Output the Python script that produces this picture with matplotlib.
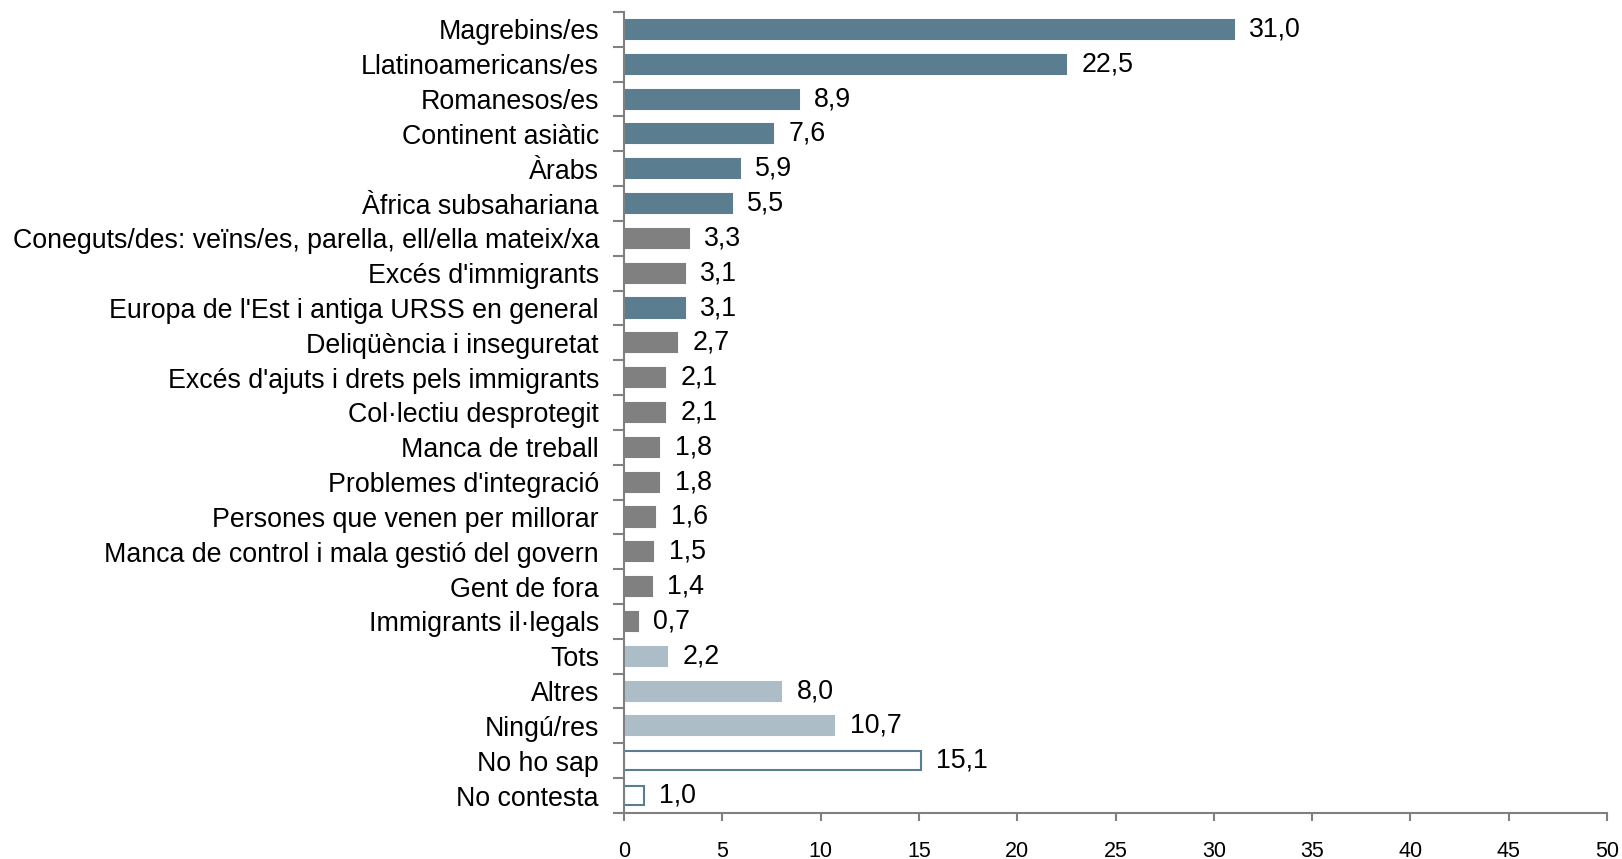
import numpy as np
import matplotlib.pyplot as plt
from matplotlib.ticker import FixedLocator, NullFormatter

plt.rcParams['font.family'] = ['Liberation Sans', 'DejaVu Sans']

# Data (top to bottom as in the chart)
categories = [
    'Magrebins/es', 'Llatinoamericans/es', 'Romanesos/es', 'Continent asiàtic',
    'Àrabs', 'Àfrica subsahariana',
    'Coneguts/des: veïns/es, parella, ell/ella mateix/xa',
    "Excés d'immigrants", "Europa de l'Est i antiga URSS en general",
    'Deliqüència i inseguretat', "Excés d'ajuts i drets pels immigrants",
    'Col·lectiu desprotegit', 'Manca de treball', "Problemes d'integració",
    'Persones que venen per millorar', 'Manca de control i mala gestió del govern',
    'Gent de fora', 'Immigrants il·legals', 'Tots', 'Altres', 'Ningú/res',
    'No ho sap', 'No contesta',
]
values = [31.0, 22.5, 8.9, 7.6, 5.9, 5.5, 3.3, 3.1, 3.1, 2.7, 2.1, 2.1, 1.8,
          1.8, 1.6, 1.5, 1.4, 0.7, 2.2, 8.0, 10.7, 15.1, 1.0]
groups = ['origen'] * 6 + ['motiu', 'motiu', 'origen'] + ['motiu'] * 9 + \
         ['altres'] * 3 + ['nsnc'] * 2

blue = '#5b7d90'
face = {'origen': blue, 'motiu': '#808080', 'altres': '#adbdc7', 'nsnc': 'white'}
edge = {'origen': blue, 'motiu': '#808080', 'altres': '#adbdc7', 'nsnc': blue}

fig = plt.figure(figsize=(16.22, 8.59), dpi=100)
ax = fig.add_axes([0.3847, 0.0536, 0.6061, 0.9324])

y = np.arange(len(categories))
ax.barh(y, values, height=0.55,
        color=[face[g] for g in groups],
        edgecolor=[edge[g] for g in groups], linewidth=1.5)

for yi, v in zip(y, values):
    ax.annotate(f'{v:.1f}'.replace('.', ','), (v, yi), xytext=(11, 0),
                textcoords='offset points', va='center', ha='left',
                fontsize=19.3)

ax.set_ylim(len(categories) - 0.5, -0.5)
ax.set_xlim(0, 50)
ax.set_xticks(np.arange(0, 51, 5))

ax.set_yticks(y)
ax.set_yticklabels(categories, fontsize=19.3)
ax.yaxis.set_minor_locator(FixedLocator(np.arange(-0.5, len(categories), 1)))
ax.yaxis.set_minor_formatter(NullFormatter())
ax.tick_params(axis='y', which='major', length=0, pad=18)
ax.tick_params(axis='y', which='minor', length=8, width=1.5, color='#808080')
ax.tick_params(axis='x', length=6, width=1.5, color='#808080', labelsize=15.5, pad=14)

for s in ['top', 'right']:
    ax.spines[s].set_visible(False)
for s in ['left', 'bottom']:
    ax.spines[s].set_color('#808080')
    ax.spines[s].set_linewidth(1.5)

fig.savefig('out.png', dpi=100)
